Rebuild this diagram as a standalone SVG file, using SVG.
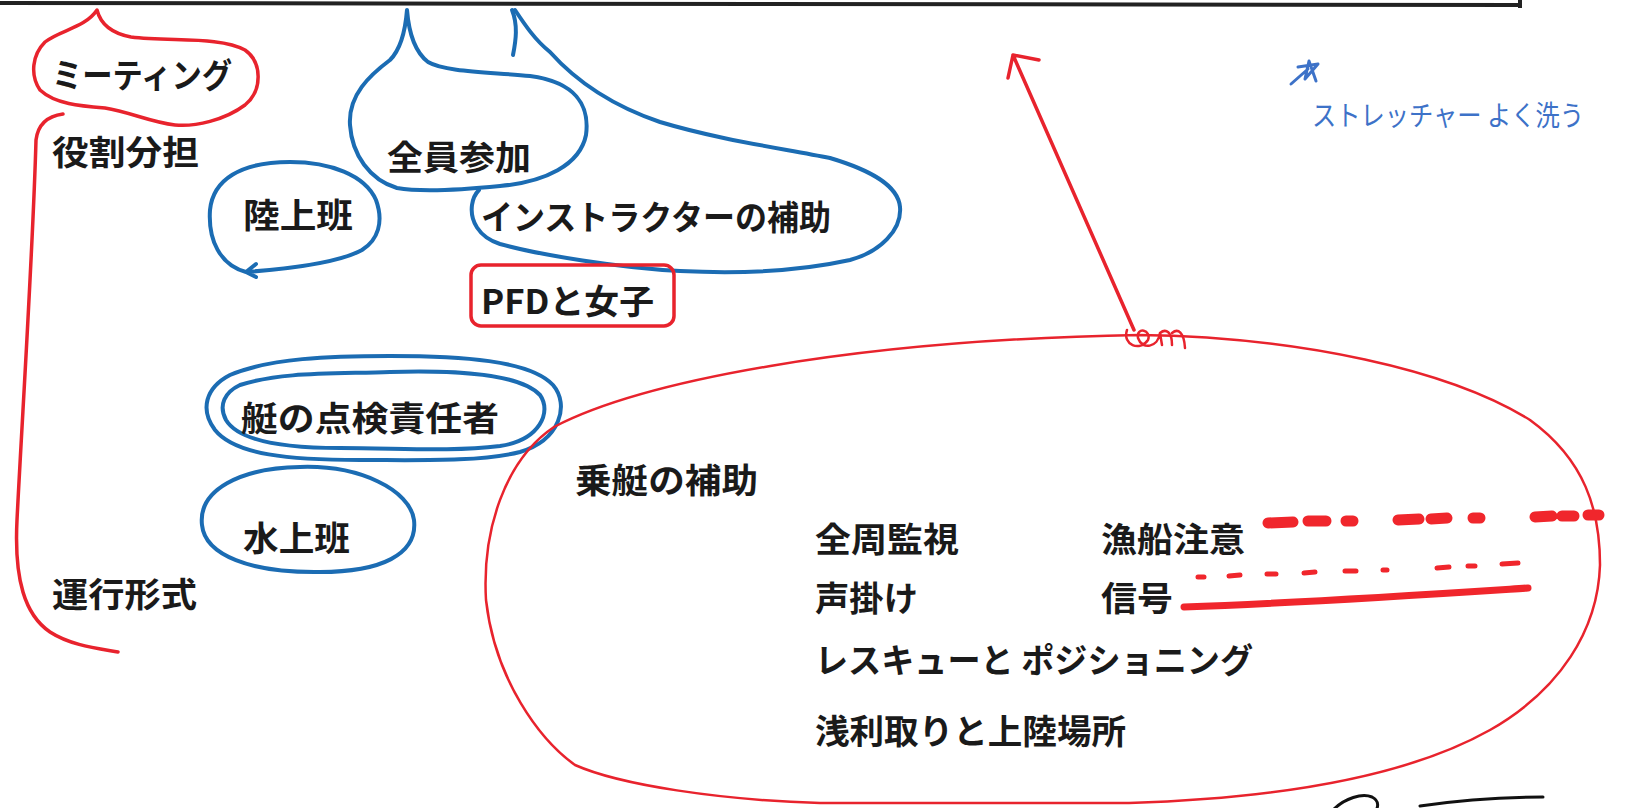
<svg xmlns="http://www.w3.org/2000/svg" width="1628" height="808" viewBox="0 0 1628 808">
<style>
.t{font-family:"Noto Sans CJK JP","Noto Sans",sans-serif;font-weight:700;font-size:34px;fill:#1a1a1a}
.b{fill:none;stroke:#1b6cb3;stroke-width:4;stroke-linecap:round;stroke-linejoin:round}
.r{fill:none;stroke:#e8232d;stroke-width:3.5;stroke-linecap:round;stroke-linejoin:round}
.rt{fill:none;stroke:#e8232d;stroke-width:2.5;stroke-linecap:round;stroke-linejoin:round}
.d1{stroke:#f0262c;stroke-width:11;stroke-linecap:round}
.d2{stroke:#f0262c;stroke-width:5;stroke-linecap:round}
.hw{font-family:"Noto Sans CJK JP",sans-serif;font-weight:400;font-size:28px;fill:#3d72c8}
</style>
<rect width="1628" height="808" fill="#ffffff"/>
<g id="frame">
<path d="M0,3 L1520,5 M1520,0 L1520,8" fill="none" stroke="#222" stroke-width="4"/>
</g>
<g id="meeting">
<path class="r" d="M97,10 C100,22 110,33 131,37 C170,42 220,36 245,50 C262,62 263,90 245,105 C225,120 195,127 175,125 C150,122 130,112 105,108 C80,106 55,104 40,90 C30,75 32,55 45,42 C60,30 85,28 97,10 Z"/>
<text class="t" x="52" y="88" textLength="180" lengthAdjust="spacingAndGlyphs">ミーティング</text>
</g>
<g id="bracket">
<path class="r" d="M63,114 C48,116 38,124 36,140 C33,250 22,420 17,520 C14,580 25,615 50,632 C70,645 95,648 118,652"/>
</g>
<g id="yakuwari"><text class="t" x="52" y="165" textLength="147" lengthAdjust="spacingAndGlyphs">役割分担</text></g>
<g id="unko"><text class="t" x="52" y="607" textLength="145" lengthAdjust="spacingAndGlyphs">運行形式</text></g>
<g id="zenin">
<path class="b" d="M407,10 C409,35 415,52 428,62 C445,72 490,72 530,76 C575,82 590,105 586,135 C580,165 545,182 500,186 C460,190 420,192 397,188 C370,180 352,155 350,125 C348,95 370,75 390,60 C400,50 405,35 407,10 Z"/>
<text class="t" x="387" y="170" textLength="144" lengthAdjust="spacingAndGlyphs">全員参加</text>
</g>
<g id="instructor">
<path class="b" d="M512,10 C518,25 516,40 513,55"/>
<path class="b" d="M515,10 C525,25 535,40 550,52 C575,80 610,105 660,122 C720,140 780,148 830,158 C870,170 898,185 900,207 C902,230 880,252 850,260 C800,271 740,274 680,271 C620,268 540,255 500,244 C478,237 470,220 472,205 C473,198 476,193 479,190"/>
<text class="t" x="481" y="230" textLength="350" lengthAdjust="spacingAndGlyphs">インストラクターの補助</text>
</g>
<g id="rikujo">
<path class="b" d="M246,272 C220,265 208,240 210,210 C213,180 240,162 290,162 C330,162 365,175 376,200 C384,222 378,240 362,250 C340,262 300,268 246,272 M246,272 L256,264 M246,272 L256,277"/>
<text class="t" x="243" y="228" textLength="110" lengthAdjust="spacingAndGlyphs">陸上班</text>
</g>
<g id="pfd">
<rect class="r" x="471" y="265" width="203" height="61" rx="10" stroke-width="4"/>
<text class="t" x="481" y="314" textLength="173" lengthAdjust="spacingAndGlyphs">PFDと女子</text>
</g>
<g id="tenken">
<path class="b" d="M230,375 C270,358 330,356 390,356 C460,356 530,360 553,385 C570,405 560,440 520,452 C480,462 420,460 360,460 C290,460 235,455 215,430 C200,410 205,388 230,375 Z"/>
<path class="b" d="M240,385 C280,372 330,374 390,372 C460,370 520,374 540,395 C552,412 540,440 500,446 C450,452 400,448 340,448 C280,448 238,440 226,420 C218,405 225,392 240,385 Z"/>
<text class="t" x="241" y="431" textLength="258" lengthAdjust="spacingAndGlyphs">艇の点検責任者</text>
</g>
<g id="suijo">
<path class="b" d="M300,467 C360,465 410,490 414,520 C418,555 380,572 320,572 C250,573 205,555 202,525 C198,490 240,468 300,467 Z"/>
<text class="t" x="243" y="551" textLength="107" lengthAdjust="spacingAndGlyphs">水上班</text>
</g>
<g id="jotei">
<path class="rt" d="M1139,335 C1300,337 1450,370 1530,420 C1585,460 1600,510 1600,565 C1598,630 1560,690 1490,730 C1410,775 1290,798 1129,803 L820,803 C720,800 620,785 575,765 C540,740 495,680 486,600 C482,530 505,460 554,427 C640,382 850,340 1139,335 Z"/>
<path class="rt" d="M1127,330 C1122,345 1140,352 1148,340 C1152,330 1136,326 1138,338 C1142,350 1158,348 1160,333 L1162,345 M1160,333 C1166,328 1172,332 1172,345 M1172,333 C1178,328 1184,332 1185,348"/>
<text class="t" x="575" y="493" textLength="183" lengthAdjust="spacingAndGlyphs">乗艇の補助</text>
<text class="t" x="815" y="552" textLength="144" lengthAdjust="spacingAndGlyphs">全周監視</text>
<text class="t" x="1101" y="552" textLength="144" lengthAdjust="spacingAndGlyphs">漁船注意</text>
<text class="t" x="815" y="611" textLength="103" lengthAdjust="spacingAndGlyphs">声掛け</text>
<text class="t" x="1101" y="611" textLength="72" lengthAdjust="spacingAndGlyphs">信号</text>
<text class="t" x="815" y="673" textLength="438" lengthAdjust="spacingAndGlyphs">レスキューと ポジショニング</text>
<text class="t" x="815" y="744" textLength="311" lengthAdjust="spacingAndGlyphs">浅利取りと上陸場所</text>
</g>
<g id="connectors">
<path class="r" d="M1134,330 L1013,55 M1008,78 L1013,55 L1039,60"/>
<path class="d1" d="M1268,523 L1293,522 M1308,521 L1326,521 M1346,521 L1353,521 M1398,520 L1419,519 M1431,519 L1447,518 M1473,518 L1480,518 M1535,517 L1552,516 M1562,516 L1574,516 M1588,515 L1599,515"/>
<path class="d2" d="M1198,577 L1204,577 M1229,576 L1240,575 M1267,574 L1276,574 M1304,573 L1315,572 M1345,571 L1356,571 M1383,570 L1387,570 M1437,568 L1449,567 M1468,566 L1475,566 M1502,564 L1518,563"/>
<path d="M1184,607 C1300,603 1420,595 1528,588" fill="none" stroke="#f0262c" stroke-width="7" stroke-linecap="round"/>
</g>
<g id="note">
<path d="M1291,84 L1308,69 M1298,67 L1318,64 L1305,79 L1309,61 L1316,81" fill="none" stroke="#3d72c8" stroke-width="3" stroke-linecap="round" stroke-linejoin="round"/>
<text class="hw" x="1312" y="126" textLength="272" lengthAdjust="spacingAndGlyphs">ストレッチャー よく洗う</text>
</g>
<g id="signature">
<path d="M1333,810 C1345,798 1362,793 1372,797 C1380,801 1378,808 1375,812 M1420,806 C1460,800 1500,797 1543,797" fill="none" stroke="#111" stroke-width="3" stroke-linecap="round"/>
</g>
</svg>
